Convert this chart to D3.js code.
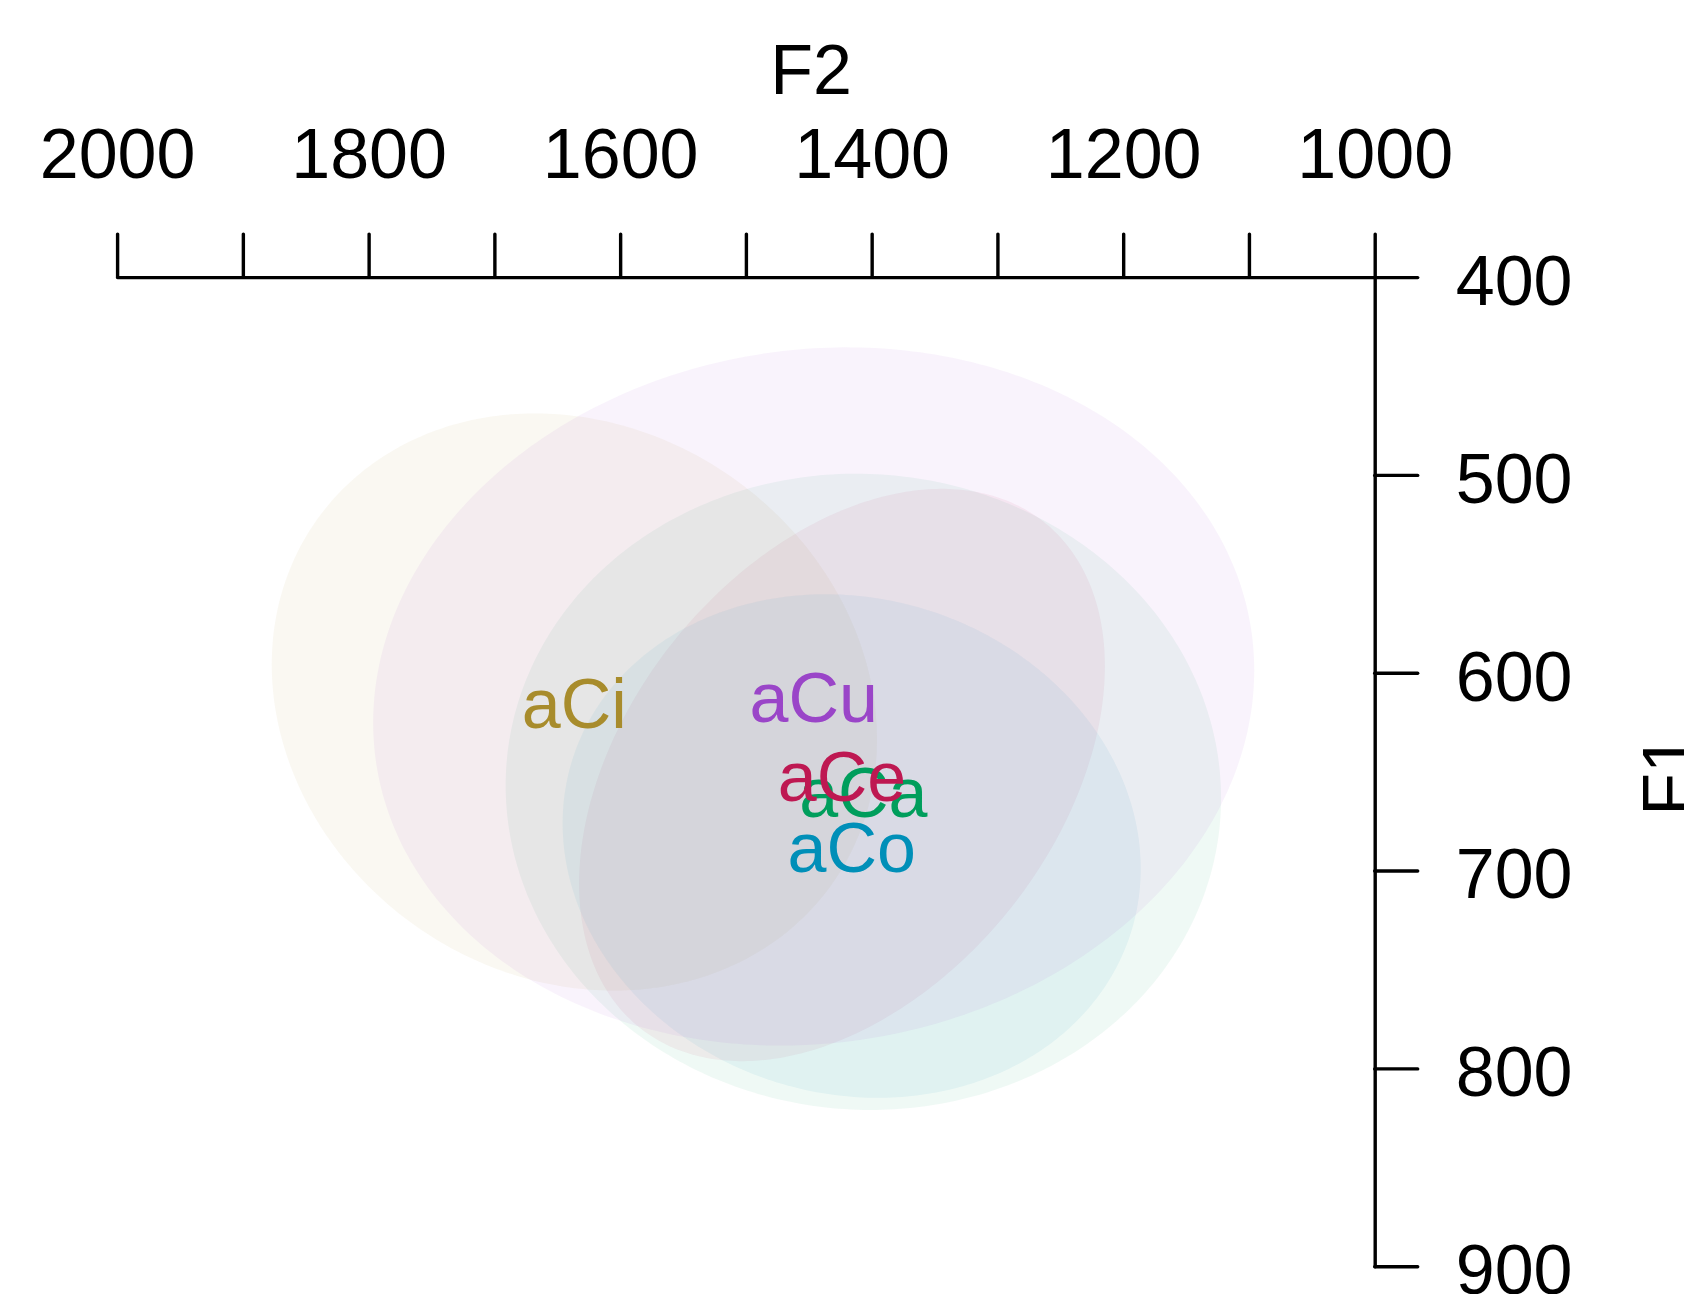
<!DOCTYPE html>
<html>
<head>
<meta charset="utf-8">
<script src="https://cdn.jsdelivr.net/npm/d3@7"></script>
<style>
  html, body { margin: 0; padding: 0; background: #ffffff; }
  svg { display: block; }
  text { font-family: "Liberation Sans", Arial, Helvetica, sans-serif; }
</style>
</head>
<body>
<svg id="chart" width="1684" height="1294"></svg>
<script>
// Vowel categories (drawn in this order; later ones sit on top)
const vowels  = ["aCa", "aCe", "aCi", "aCo", "aCu"];
// Category means (Hz)
const f2Mean  = [1406.6, 1423.6, 1636.4, 1415.9, 1446.1];
const f1Mean  = [660.2, 651.7, 614.8, 687.6, 612.0];
// Standard deviations (Hz) and F2/F1 correlation
const f2Sd    = [116.2, 85.4, 98.3, 93.9, 143.1];
const f1Sd    = [65.7, 59.1, 59.6, 52.0, 72.1];
const f2f1Cor = [-0.02, 0.38, -0.13, -0.09, 0.075];
// Category colours
const colours = ["#009e5c", "#be1852", "#a88c2c", "#008fb8", "#9a45c8"];
// Axis ticks
const f2Ticks = [1000, 1100, 1200, 1300, 1400, 1500, 1600, 1700, 1800, 1900, 2000];
const f2Labels = [1000, 1200, 1400, 1600, 1800, 2000];
const f1Ticks = [400, 500, 600, 700, 800, 900];

// 95% confidence ellipse radius for a bivariate normal
const ellipseScale = Math.sqrt(-2 * Math.log(1 - 0.95));

const svg = d3.select("#chart");
const fontSize = 70;
const tickLen = 43;

const x = d3.scaleLinear().domain([2000, 1000]).range([117.1, 1374.7]);
const y = d3.scaleLinear().domain([400, 900]).range([277.1, 1266.2]);

// Ellipses
const data = vowels.map((v, i) => ({
  name: v, f2: f2Mean[i], f1: f1Mean[i],
  sx: f2Sd[i], sy: f1Sd[i], r: f2f1Cor[i], colour: colours[i]
}));

const line = d3.line().x(p => x(p[0])).y(p => y(p[1])).curve(d3.curveLinearClosed);
function ellipsePoints(d) {
  const hx = d.sx * ellipseScale, hy = d.sy * ellipseScale;
  const s = Math.sqrt(1 - d.r * d.r);
  return d3.range(0, 360, 1).map(a => {
    const t = a * Math.PI / 180;
    return [d.f2 + hx * Math.cos(t), d.f1 + hy * (d.r * Math.cos(t) + s * Math.sin(t))];
  });
}

svg.append("g").selectAll("path").data(data).join("path")
  .attr("d", d => line(ellipsePoints(d)))
  .attr("fill", d => d.colour)
  .attr("fill-opacity", 0.062)
  .attr("stroke", "none");

// Axes
const xAxis = d3.axisTop(x)
  .tickValues(f2Ticks)
  .tickSize(tickLen).tickSizeOuter(0).tickPadding(56)
  .tickFormat(d => f2Labels.includes(d) ? String(d) : "");
const gx = svg.append("g").attr("transform", `translate(0,${y(400)})`).call(xAxis);

const yAxis = d3.axisRight(y)
  .tickValues(f1Ticks)
  .tickSize(tickLen).tickSizeOuter(0).tickPadding(38)
  .tickFormat(d => String(d));
const gy = svg.append("g").attr("transform", `translate(${x(1000)},0)`).call(yAxis);

[gx, gy].forEach(g => {
  g.selectAll("path.domain, line").attr("stroke", "#000").attr("stroke-width", 3.4)
    .attr("stroke-linecap", "round");
  g.selectAll("text").attr("font-size", fontSize).attr("fill", "#000")
    .attr("font-family", "'Liberation Sans', Arial, Helvetica, sans-serif");
});
gy.selectAll("text").attr("dy", "0.39em");
gx.selectAll("text").attr("dy", "0");

// Axis titles
svg.append("text")
  .attr("x", 811).attr("y", 94)
  .attr("text-anchor", "middle").attr("font-size", fontSize)
  .text("F2");
svg.append("text")
  .attr("transform", "translate(1692,775) rotate(-90)")
  .attr("text-anchor", "middle").attr("font-size", fontSize)
  .text("F1");

// Category labels at the means
svg.append("g").selectAll("text").data(data).join("text")
  .attr("x", d => x(d.f2))
  .attr("y", d => y(d.f1) + 25.5)
  .attr("text-anchor", "middle")
  .attr("font-size", fontSize)
  .attr("fill", d => d.colour)
  .text(d => d.name);
</script>
</body>
</html>
